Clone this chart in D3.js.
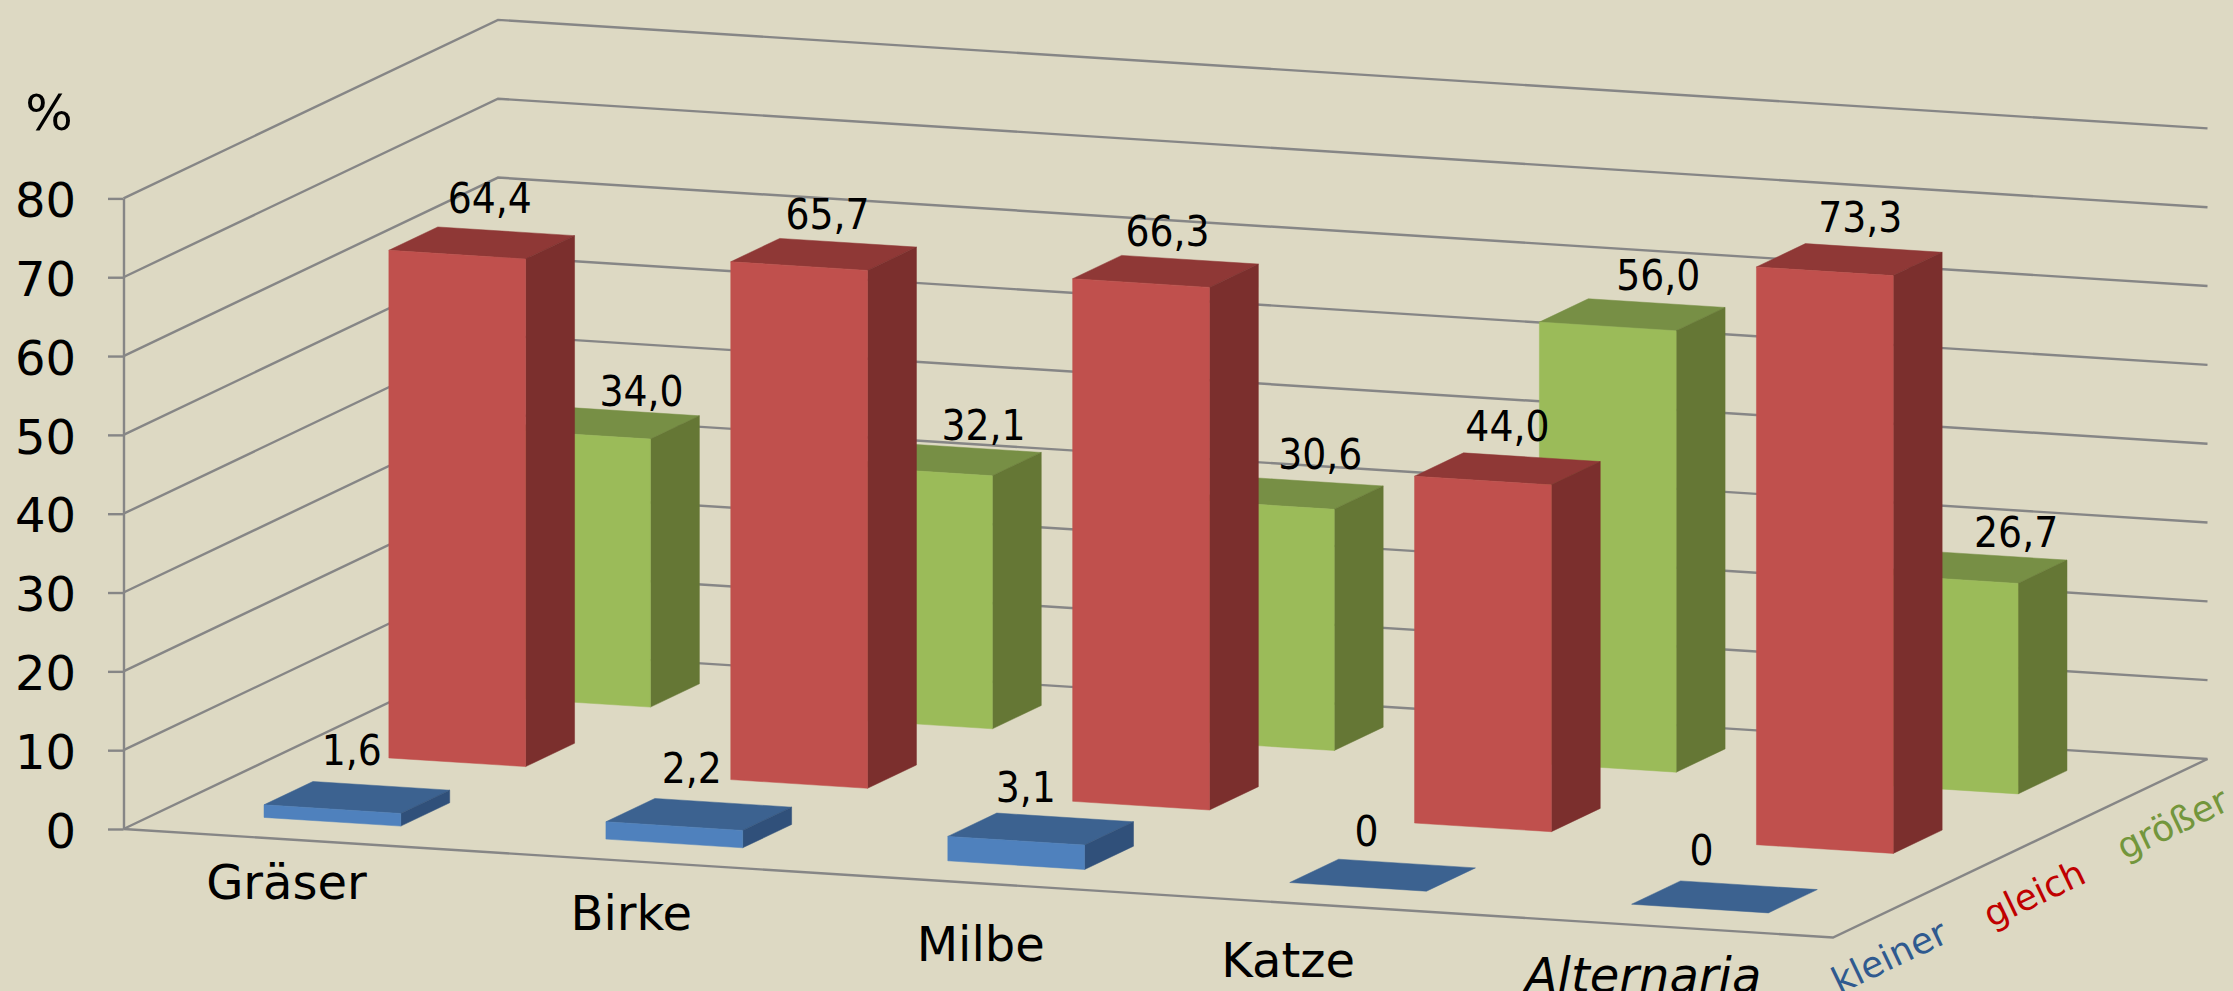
<!DOCTYPE html>
<html lang="de">
    <head>
        <meta charset="utf-8">
        <title>Allergene 3D</title>
        <script type="text/javascript" src="https://d3js.org/d3.v7.min.js"></script>
        <style type="text/css">
            html, body {
                margin: 0;
                padding: 0;
                background: #DDD9C3;
                overflow: hidden;
            }
            svg {
                display: block;
            }
            text {
                font-family: "DejaVu Sans", sans-serif;
                fill: #000;
            }
            .axis path, .axis line, .grid {
                stroke: #868686;
                stroke-width: 2.4;
                fill: none;
            }
            .axis text {
                font-size: 48px;
            }
            .value {
                font-family: "DejaVu Sans Condensed", "DejaVu Sans", sans-serif;
                font-stretch: condensed;
                font-size: 42px;
                text-anchor: middle;
            }
            .category {
                font-size: 48px;
                text-anchor: middle;
            }
            .depth {
                font-size: 36px;
                text-anchor: middle;
            }
        </style>
    </head>

    <body>
        <script type="text/javascript">
            // chart data
            const categories = ["Gräser", "Birke", "Milbe", "Katze", "Alternaria"];
            const seriesNames = ["kleiner", "gleich", "größer"];
            const kleiner = [1.6, 2.2, 3.1, 0, 0];
            const gleich = [64.4, 65.7, 66.3, 44.0, 73.3];
            const groesser = [34.0, 32.1, 30.6, 56.0, 26.7];
            const seriesValues = [kleiner, gleich, groesser];
            const yTicks = [0, 10, 20, 30, 40, 50, 60, 70, 80];

            // face colours per series [front, side, top], label colour
            const faceColors = [
                ["#4F81BD", "#30507A", "#3C6290"],
                ["#C0504D", "#7B2F2D", "#8F3836"],
                ["#9BBB59", "#657735", "#778F45"]
            ];
            const depthColors = ["#2F5A8F", "#C00000", "#73963C"];

            // label nudges from the bar top, the labels in the picture are placed by hand
            const valueNudge = [
                [[-5, -32], [-7, -31], [-15, -27], [-16, -29], [-23, -32]],
                [[8, -30], [4, -25], [2, -25], [0, -28], [11, -28]],
                [[35, -17], [35, -20], [30, -24], [26, -25], [42, -20]]
            ];
            const categoryNudge = [[-8, 59], [-5, 68], [2.5, 78], [-32, 72], [-19, 65]];
            const depthLabelPos = [[1890, 958], [2035, 895], [2173, 825]];

            const svgW = 2233;
            const svgH = 991;

            // oblique box: origin of the floor, width edge and depth edge
            const originX = 123.5;
            const widthEdge = [1709.5, 108.5];
            const depthEdge = [374.5, -178.5];

            const scaleY = d3.scaleLinear().domain([0, 80]).range([829, 198.4]);
            const scaleU = d3.scaleBand().domain(categories).range([0, 1])
                            .paddingInner(0.6).paddingOuter(0.3);
            const scaleV = d3.scaleBand().domain(seriesNames).range([0, 1])
                            .paddingInner(0.608).paddingOuter(0.304);

            // u along the categories, v into the depth, z is the value
            function project(u, v, z) {
                return [
                    originX + u * widthEdge[0] + v * depthEdge[0],
                    scaleY(z) + u * widthEdge[1] + v * depthEdge[1]
                ];
            }

            const path = d3.line();

            const svg = d3.select("body")
                        .append("svg")
                        .attr("width", svgW)
                        .attr("height", svgH);

            svg.append("rect")
                .attr("width", svgW)
                .attr("height", svgH)
                .attr("fill", "#DDD9C3");

            // walls: one line per tick, along the left wall and the back wall
            svg.append("g").selectAll("path")
                .data(yTicks)
                .enter()
                .append("path")
                .attr("class", "grid")
                .attr("d", d => path([project(0, 0, d), project(0, 1, d), project(1, 1, d)]));

            // floor front and right edge
            svg.append("path")
                .attr("class", "grid")
                .attr("d", path([project(0, 0, 0), project(1, 0, 0), project(1, 1, 0)]));

            const leftAxis = d3.axisLeft(scaleY)
                                .tickValues(yTicks)
                                .tickSizeInner(15.5)
                                .tickSizeOuter(0)
                                .tickPadding(32);

            const axisG = svg.append("g")
                .attr("class", "axis")
                .attr("transform", "translate(" + originX + ",0)")
                .call(leftAxis);
            axisG.selectAll("text").attr("dy", "0.38em");

            // one record per bar, back row first so the front rows cover it
            const bars = [];
            [2, 1, 0].forEach(s => {
                categories.forEach((c, i) => {
                    bars.push({s: s, i: i, cat: c, value: seriesValues[s][i]});
                });
            });

            function corners(d) {
                const u0 = scaleU(d.cat), u1 = u0 + scaleU.bandwidth();
                const v0 = scaleV(seriesNames[d.s]), v1 = v0 + scaleV.bandwidth();
                return {u0, u1, v0, v1};
            }

            const barG = svg.append("g").selectAll("g")
                .data(bars)
                .enter()
                .append("g");

            // top face
            barG.append("path")
                .attr("d", d => {
                    const c = corners(d);
                    return path([project(c.u0, c.v0, d.value), project(c.u1, c.v0, d.value),
                                 project(c.u1, c.v1, d.value), project(c.u0, c.v1, d.value)]) + "Z";
                })
                .attr("fill", d => faceColors[d.s][2])
                .attr("stroke", d => faceColors[d.s][2])
                .attr("stroke-width", 0.5);

            // side face
            barG.filter(d => d.value > 0).append("path")
                .attr("d", d => {
                    const c = corners(d);
                    return path([project(c.u1, c.v0, 0), project(c.u1, c.v1, 0),
                                 project(c.u1, c.v1, d.value), project(c.u1, c.v0, d.value)]) + "Z";
                })
                .attr("fill", d => faceColors[d.s][1])
                .attr("stroke", d => faceColors[d.s][1])
                .attr("stroke-width", 0.5);

            // front face
            barG.filter(d => d.value > 0).append("path")
                .attr("d", d => {
                    const c = corners(d);
                    return path([project(c.u0, c.v0, 0), project(c.u1, c.v0, 0),
                                 project(c.u1, c.v0, d.value), project(c.u0, c.v0, d.value)]) + "Z";
                })
                .attr("fill", d => faceColors[d.s][0])
                .attr("stroke", d => faceColors[d.s][0])
                .attr("stroke-width", 0.5);

            // value labels, comma as decimal mark and plain 0 for the empty bars
            const valueFormat = v => v === 0 ? "0" : v.toFixed(1).replace(".", ",");

            svg.append("g").selectAll("text")
                .data(bars)
                .enter()
                .append("text")
                .attr("class", "value")
                .attr("x", d => {
                    const c = corners(d);
                    return project((c.u0 + c.u1) / 2, (c.v0 + c.v1) / 2, d.value)[0] + valueNudge[d.s][d.i][0];
                })
                .attr("y", d => {
                    const c = corners(d);
                    return project((c.u0 + c.u1) / 2, (c.v0 + c.v1) / 2, d.value)[1] + valueNudge[d.s][d.i][1];
                })
                .text(d => valueFormat(d.value));

            // category labels under the front edge
            svg.append("g").selectAll("text")
                .data(categories)
                .enter()
                .append("text")
                .attr("class", "category")
                .attr("x", (d, i) => project(scaleU(d) + scaleU.bandwidth() / 2, 0, 0)[0] + categoryNudge[i][0])
                .attr("y", (d, i) => project(scaleU(d) + scaleU.bandwidth() / 2, 0, 0)[1] + categoryNudge[i][1])
                .attr("font-style", d => d === "Alternaria" ? "italic" : "normal")
                .text(d => d);

            // series names along the depth edge
            svg.append("g").selectAll("text")
                .data(seriesNames)
                .enter()
                .append("text")
                .attr("class", "depth")
                .attr("dy", "0.3em")
                .attr("transform", (d, i) => "translate(" + depthLabelPos[i][0] + "," + depthLabelPos[i][1] + ") rotate(-25.5)")
                .style("fill", (d, i) => depthColors[i])
                .text(d => d);

            // unit above the y axis
            svg.append("text")
                .attr("x", 49)
                .attr("y", 130)
                .attr("text-anchor", "middle")
                .attr("font-size", 50)
                .text("%");
        </script>
    </body>
</html>
